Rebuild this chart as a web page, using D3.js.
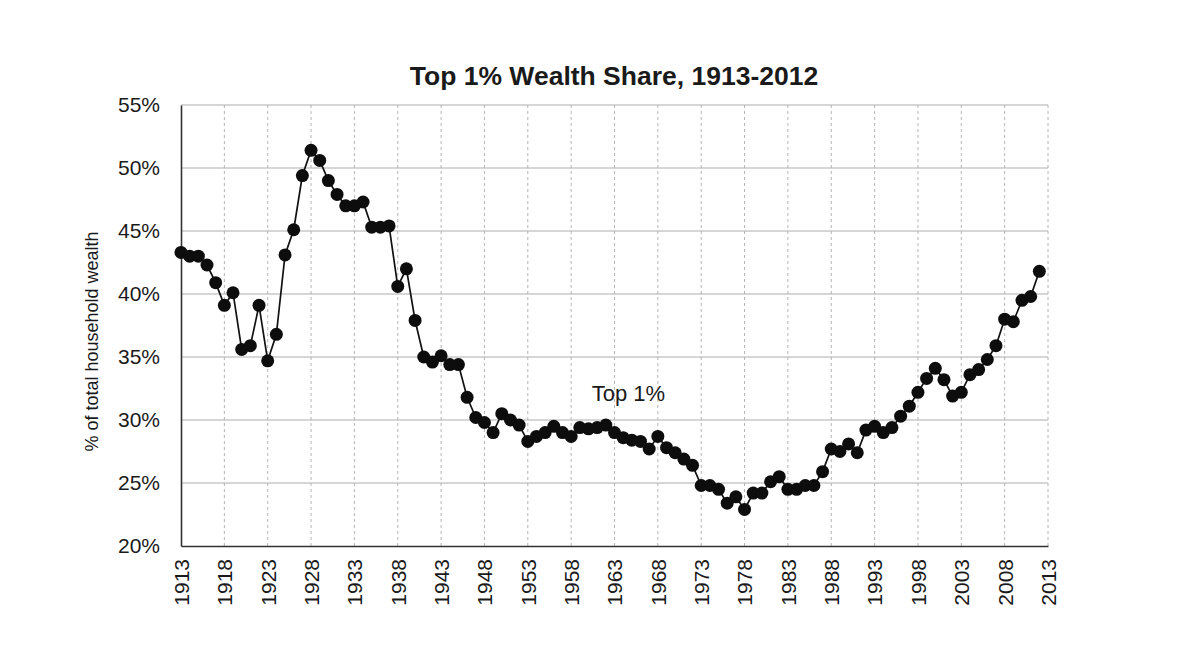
<!DOCTYPE html>
<html lang="en">
<head>
  <meta charset="UTF-8">
  <title>Top 1% Wealth Share</title>
  <script src="https://d3js.org/d3.v7.min.js"></script>
  <style>
    body { margin: 0; background: #fff; }
    text { font-family: "Liberation Sans", Arial, sans-serif; fill: #1a1a1a; }
    .title { font-size: 26.5px; font-weight: bold; }
    .tick text { font-size: 21px; }
    .hgrid line { stroke: #c8c8c8; stroke-width: 1.6px; }
    .vgrid line { stroke: #b4b4b4; stroke-width: 1px; stroke-dasharray: 3,3; }
    .line { fill: none; stroke: #111; stroke-width: 1.7px; }
    .dot { fill: #0d0d0d; }
  </style>
</head>
<body>
  <svg width="1179" height="651"></svg>
  <script>
    // values, one per year from 1913
    const startYear = 1913;
    const share = [
      43.3, 43.0, 43.0, 42.3, 40.9, 39.1, 40.1, 35.6, 35.9, 39.1,
      34.7, 36.8, 43.1, 45.1, 49.4, 51.4, 50.6, 49.0, 47.9, 47.0,
      47.0, 47.3, 45.3, 45.3, 45.4, 40.6, 42.0, 37.9, 35.0, 34.6,
      35.1, 34.4, 34.4, 31.8, 30.2, 29.8, 29.0, 30.5, 30.0, 29.6,
      28.3, 28.7, 29.0, 29.5, 29.0, 28.7, 29.4, 29.3, 29.4, 29.6,
      29.0, 28.6, 28.4, 28.3, 27.7, 28.7, 27.8, 27.4, 26.9, 26.4,
      24.8, 24.8, 24.5, 23.4, 23.9, 22.9, 24.2, 24.2, 25.1, 25.5,
      24.5, 24.5, 24.8, 24.8, 25.9, 27.7, 27.5, 28.1, 27.4, 29.2,
      29.5, 29.0, 29.4, 30.3, 31.1, 32.2, 33.3, 34.1, 33.2, 31.9,
      32.2, 33.6, 34.0, 34.8, 35.9, 38.0, 37.8, 39.5, 39.8, 41.8
    ];
    const years = share.map((v, i) => startYear + i);
    const xTicks = d3.range(1913, 2014, 5);
    const yTicks = [20, 25, 30, 35, 40, 45, 50, 55];
    const title = "Top 1% Wealth Share, 1913-2012";
    const yTitle = "% of total household wealth";
    const seriesLabel = { text: "Top 1%", year: 1964.6, value: 31.5 };

    const svg = d3.select("svg");
    const margin = { left: 181, right: 131, top: 105, bottom: 105 };
    const W = 1179, H = 651;

    const x = d3.scaleLinear().domain([1913, 2013]).range([margin.left, W - margin.right]);
    const y = d3.scaleLinear().domain([20, 55]).range([H - margin.bottom, margin.top]);

    // horizontal grid
    svg.append("g").attr("class", "hgrid")
      .selectAll("line").data(yTicks.slice(1)).join("line")
        .attr("x1", x(1913)).attr("x2", x(2013))
        .attr("y1", d => y(d)).attr("y2", d => y(d));

    // vertical dashed grid
    svg.append("g").attr("class", "vgrid")
      .selectAll("line").data(xTicks.slice(1)).join("line")
        .attr("x1", d => x(d)).attr("x2", d => x(d))
        .attr("y1", y(55)).attr("y2", y(20));

    // axes
    const xAxis = svg.append("g")
      .attr("transform", `translate(0,${y(20)})`)
      .call(d3.axisBottom(x).tickValues(xTicks).tickFormat(d3.format("d")).tickSize(0).tickPadding(0));
    xAxis.select(".domain").attr("stroke", "#333").attr("stroke-width", 1.6);
    xAxis.selectAll(".tick text")
      .attr("transform", "rotate(-90)")
      .attr("text-anchor", "end")
      .attr("x", -13)
      .attr("y", 0)
      .attr("dy", "0.35em");

    const yAxis = svg.append("g")
      .attr("transform", `translate(${x(1913)},0)`)
      .call(d3.axisLeft(y).tickValues(yTicks).tickFormat(d => d + "%").tickSize(0).tickPadding(21));
    yAxis.select(".domain").attr("stroke", "#333").attr("stroke-width", 1.6);

    // line and markers
    const line = d3.line().x((d, i) => x(years[i])).y(d => y(d));
    svg.append("path").datum(share).attr("class", "line").attr("d", line);
    svg.append("g").selectAll("circle").data(share).join("circle")
      .attr("class", "dot")
      .attr("cx", (d, i) => x(years[i]))
      .attr("cy", d => y(d))
      .attr("r", 6.5);

    // labels
    svg.append("text").attr("class", "title")
      .attr("x", 614).attr("y", 85)
      .attr("text-anchor", "middle")
      .text(title);

    svg.append("text")
      .attr("transform", `translate(98,${(y(20) + y(55)) / 2 + 16}) rotate(-90)`)
      .attr("text-anchor", "middle")
      .style("font-size", "18px")
      .text(yTitle);

    svg.append("text")
      .attr("x", x(seriesLabel.year)).attr("y", y(seriesLabel.value))
      .attr("text-anchor", "middle")
      .style("font-size", "22px")
      .text(seriesLabel.text);
  </script>
</body>
</html>
